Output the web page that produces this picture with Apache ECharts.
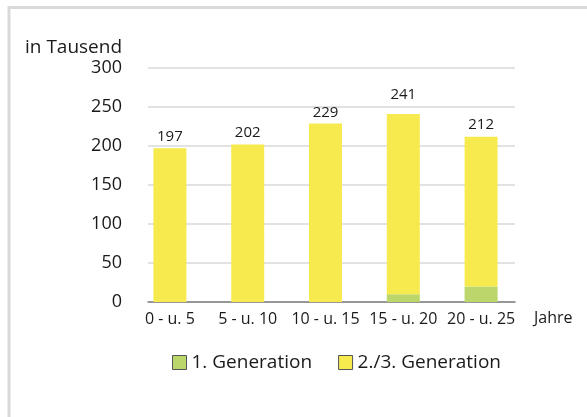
<!DOCTYPE html>
<html>
<head>
<meta charset="utf-8">
<script src="https://cdn.jsdelivr.net/npm/echarts@6/dist/echarts.min.js"></script>
<style>
html,body{margin:0;padding:0;background:#fff;}
#c{width:587px;height:417px;}
</style>
</head>
<body>
<div id="c"></div>
<script>
const categories = ['0 - u. 5', '5 - u. 10', '10 - u. 15', '15 - u. 20', '20 - u. 25'];
const gen1 = [0, 0, 0, 10, 20];
const gen23 = [197, 202, 229, 231, 192];
const totals = [197, 202, 229, 241, 212];
const yTicks = [0, 50, 100, 150, 200, 250, 300];
const seriesNames = ['1. Generation', '2./3. Generation'];

const FONT = 'Open Sans';
// label distance per bar (the reference lifts the 241 label clear of the 250 gridline)
const labelDistances = [4, 4, 3, 12, 4];

const chart = echarts.init(document.getElementById('c'), null, {renderer: 'canvas'});
chart.setOption({
  animation: false,
  textStyle: {fontFamily: FONT},
  title: {
    text: 'in Tausend', left: 20, top: 33,
    textStyle: {fontFamily: FONT, fontSize: 19, fontWeight: 'normal', color: '#1a1a1a'}
  },
  graphic: [{
    type: 'rect', shape: {x: 9, y: 7.5, width: 800, height: 800},
    style: {fill: 'none', stroke: '#d9d9d9', lineWidth: 3}, silent: true
  }],
  legend: {
    data: seriesNames, left: 172, top: 353, padding: 0,
    icon: 'rect', itemWidth: 14, itemHeight: 14, itemGap: 26,
    textStyle: {fontFamily: FONT, fontSize: 19, color: '#1a1a1a'},
    itemStyle: {borderColor: '#555', borderWidth: 1}
  },
  grid: [
    {left: 148, right: 72, top: 68, bottom: 115, containLabel: false},
    {left: 131, right: 67, top: 68, bottom: 115, containLabel: false}
  ],
  xAxis: [
    {type: 'category', gridIndex: 0, data: categories,
     axisLine: {lineStyle: {color: '#7f7f7f', width: 1.5}},
     axisTick: {show: false}, axisLabel: {show: false}},
    {type: 'category', gridIndex: 1, data: categories,
     axisLine: {show: false}, axisTick: {show: false},
     axisLabel: {interval: 0, fontFamily: FONT, fontSize: 16, color: '#1a1a1a', margin: 9},
     name: 'Jahre', nameLocation: 'end', nameGap: 14,
     nameTextStyle: {fontFamily: FONT, fontSize: 16, color: '#1a1a1a', verticalAlign: 'top', padding: [8, 0, 0, 0]}}
  ],
  yAxis: [
    {type: 'value', gridIndex: 0, min: yTicks[0], max: yTicks[yTicks.length - 1], interval: 50,
     axisLine: {show: false}, axisTick: {show: false},
     axisLabel: {fontFamily: FONT, fontSize: 18, color: '#1a1a1a', margin: 26},
     splitLine: {lineStyle: {color: '#d9d9d9', width: 1.5}}},
    {type: 'value', gridIndex: 1, min: yTicks[0], max: yTicks[yTicks.length - 1], interval: 50,
     show: false, splitLine: {show: false}}
  ],
  series: [
    {name: seriesNames[0], type: 'bar', stack: 'a', xAxisIndex: 1, yAxisIndex: 1,
     data: gen1, barWidth: 33, itemStyle: {color: '#bbd66a'}},
    {name: seriesNames[1], type: 'bar', stack: 'a', xAxisIndex: 1, yAxisIndex: 1,
     data: gen23.map((v, i) => ({value: v, label: {distance: labelDistances[i]}})),
     barWidth: 33, itemStyle: {color: '#f6ea4f'},
     label: {show: true, position: 'top',
       fontFamily: FONT, fontSize: 15, color: '#1a1a1a',
       formatter: p => String(totals[p.dataIndex])}}
  ]
});
</script>
</body>
</html>
